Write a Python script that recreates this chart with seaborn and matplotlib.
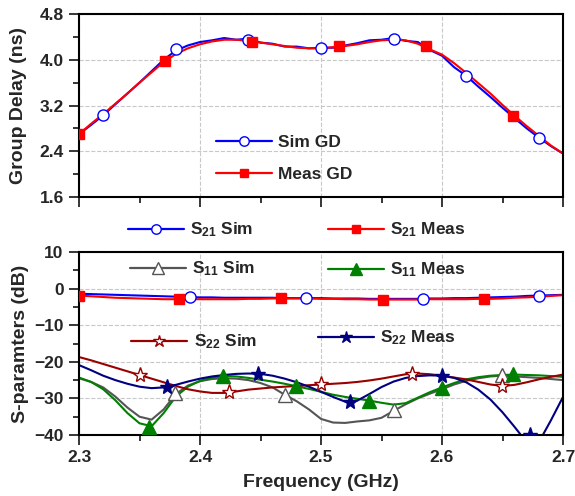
import numpy as np
import matplotlib
matplotlib.use("Agg")
import matplotlib.pyplot as plt
from matplotlib.lines import Line2D
from matplotlib.ticker import MultipleLocator, FormatStrFormatter
import seaborn as sns

# frequency grid (GHz)
freq = [2.30, 2.31, 2.32, 2.33, 2.34, 2.35, 2.36, 2.37, 2.38, 2.39, 2.40,
        2.41, 2.42, 2.43, 2.44, 2.45, 2.46, 2.47, 2.48, 2.49, 2.50,
        2.51, 2.52, 2.53, 2.54, 2.55, 2.56, 2.57, 2.58, 2.59, 2.60,
        2.61, 2.62, 2.63, 2.64, 2.65, 2.66, 2.67, 2.68, 2.69, 2.70]

# group delay (ns)
sim_gd = [2.70, 2.86, 3.03, 3.22, 3.41, 3.60, 3.80, 4.00, 4.16, 4.25, 4.31,
          4.34, 4.38, 4.35, 4.37, 4.30, 4.28, 4.23, 4.23, 4.20, 4.21,
          4.21, 4.25, 4.29, 4.34, 4.35, 4.38, 4.33, 4.31, 4.17, 4.07,
          3.87, 3.72, 3.53, 3.35, 3.16, 2.98, 2.80, 2.64, 2.49, 2.36]
meas_gd = [2.70, 2.88, 3.05, 3.23, 3.41, 3.60, 3.78, 3.96, 4.10, 4.20, 4.27,
           4.32, 4.35, 4.35, 4.33, 4.30, 4.27, 4.24, 4.21, 4.20, 4.20,
           4.22, 4.24, 4.27, 4.31, 4.34, 4.35, 4.34, 4.28, 4.18, 4.09,
           3.94, 3.77, 3.59, 3.41, 3.21, 3.02, 2.84, 2.67, 2.50, 2.36]
sim_gd_mx = [2.32, 2.38, 2.44, 2.50, 2.56, 2.62, 2.68]
sim_gd_my = [3.04, 4.18, 4.35, 4.21, 4.37, 3.72, 2.64]
meas_gd_mx = [2.30, 2.371, 2.443, 2.515, 2.587, 2.659]
meas_gd_my = [2.70, 3.97, 4.31, 4.24, 4.24, 3.02]

# S-parameters (dB)
s21_sim = [-1.4, -1.5, -1.6, -1.7, -1.8, -1.9, -2.0, -2.1, -2.2, -2.3, -2.4,
           -2.4, -2.5, -2.5, -2.5, -2.5, -2.5, -2.6, -2.6, -2.6, -2.6,
           -2.7, -2.7, -2.7, -2.8, -2.8, -2.8, -2.8, -2.8, -2.7, -2.7,
           -2.6, -2.6, -2.5, -2.4, -2.3, -2.2, -2.0, -1.9, -1.8, -1.7]
s21_meas = [-1.9, -2.1, -2.3, -2.5, -2.6, -2.7, -2.8, -2.9, -2.9, -2.9, -2.9,
            -2.9, -2.9, -2.9, -2.8, -2.8, -2.7, -2.7, -2.7, -2.7, -2.8,
            -2.8, -2.9, -2.9, -3.0, -3.0, -3.0, -3.0, -3.0, -2.9, -2.9,
            -2.9, -2.9, -2.8, -2.8, -2.7, -2.5, -2.4, -2.2, -2.0, -1.8]
s11_sim = [-24.5, -25.5, -27.0, -29.5, -32.5, -35.0, -35.8, -33.0, -28.8, -26.5, -25.3,
           -24.7, -24.5, -24.6, -25.0, -25.8, -27.0, -29.0, -30.8, -33.0, -35.6,
           -36.6, -36.7, -36.3, -36.0, -35.3, -33.4, -31.6, -30.0, -28.7, -27.5,
           -26.2, -25.2, -24.5, -24.0, -23.8, -24.0, -24.2, -24.4, -24.7, -25.0]
s11_meas = [-24.3, -25.5, -27.5, -30.5, -34.0, -36.8, -37.6, -34.0, -29.5, -26.8, -25.2,
            -24.3, -23.9, -24.0, -24.4, -24.9, -25.4, -26.0, -26.7, -27.4, -28.2,
            -29.0, -29.6, -30.1, -30.6, -31.2, -31.7, -31.3, -29.8, -28.3, -27.0,
            -25.8, -24.8, -24.2, -23.8, -23.6, -23.5, -23.6, -23.7, -23.9, -24.1]
s22_sim = [-18.7, -19.6, -20.6, -21.6, -22.6, -23.6, -24.6, -25.6, -26.6, -27.5, -28.1,
           -28.5, -28.5, -28.1, -27.6, -27.3, -27.0, -26.8, -26.6, -26.4, -26.2,
           -26.0, -25.8, -25.5, -25.1, -24.6, -24.0, -23.4, -23.2, -23.4, -23.8,
           -24.3, -24.8, -25.5, -26.2, -26.6, -26.3, -25.6, -24.8, -24.1, -23.5]
s22_meas = [-20.9, -22.3, -23.8, -25.0, -26.0, -26.8, -27.2, -27.0, -26.3, -25.4, -24.6,
            -24.0, -23.6, -23.3, -23.2, -23.3, -23.8, -24.6, -25.6, -26.8, -28.2,
            -29.6, -30.9, -30.6, -28.8, -26.9, -25.4, -24.4, -23.9, -23.7, -23.8,
            -24.4, -25.6, -27.6, -30.3, -33.8, -37.8, -42.0, -42.0, -36.0, -29.6]

s21_sim_mx = [2.392, 2.488, 2.584, 2.680]
s21_sim_my = [-2.3, -2.6, -2.8, -1.9]
s21_meas_mx = [2.300, 2.383, 2.467, 2.551, 2.635]
s21_meas_my = [-1.9, -2.9, -2.7, -3.0, -2.8]
s11_sim_mx = [2.379, 2.470, 2.560, 2.650]
s11_sim_my = [-28.5, -29.1, -33.3, -23.6]
s11_meas_mx = [2.358, 2.419, 2.479, 2.540, 2.600, 2.659]
s11_meas_my = [-37.7, -23.8, -26.7, -30.6, -27.1, -23.4]
s22_sim_mx = [2.350, 2.424, 2.500, 2.575, 2.650]
s22_sim_my = [-23.6, -28.3, -26.2, -23.2, -26.6]
s22_meas_mx = [2.373, 2.448, 2.524, 2.600, 2.673]
s22_meas_my = [-26.8, -23.2, -31.0, -23.8, -40.0]

sns.set_style("ticks")
plt.rcParams['font.family'] = ['Liberation Sans', 'DejaVu Sans']
plt.rcParams['font.weight'] = 'bold'
plt.rcParams['axes.labelweight'] = 'bold'
plt.rcParams['mathtext.fontset'] = 'custom'
plt.rcParams['mathtext.rm'] = 'Liberation Sans:bold'
plt.rcParams['mathtext.it'] = 'Liberation Sans:bold'
plt.rcParams['mathtext.bf'] = 'Liberation Sans:bold'
plt.rcParams['mathtext.default'] = 'rm'
plt.rcParams['legend.numpoints'] = 1

W, H = 575, 496
fig = plt.figure(figsize=(W / 100, H / 100), dpi=100)
ax1 = fig.add_axes([79 / W, 1 - 197 / H, 484 / W, 183 / H])
ax2 = fig.add_axes([79 / W, 1 - 435 / H, 484 / W, 183 / H])


def draw(ax, y, mx, my, color, marker, mfc, ms=8):
    sns.lineplot(x=freq, y=y, ax=ax, color=color, lw=1.5, estimator=None, sort=False)
    ax.plot(mx, my, linestyle='none', marker=marker, ms=ms, mfc=mfc, mec=color,
            mew=1.0, zorder=5, clip_on=True)
    return Line2D([], [], color=color, lw=1.6, marker=marker, ms=ms * 0.85, mfc=mfc,
                  mec=color, mew=1.0)


blue, red, grey, green, dred, navy = '#0000ff', '#ff0000', '#555555', '#008000', '#990000', '#000080'

h_sim_gd = draw(ax1, sim_gd, sim_gd_mx, sim_gd_my, blue, 'o', 'white')
h_meas_gd = draw(ax1, meas_gd, meas_gd_mx, meas_gd_my, red, 's', red, 7.5)

h21s = draw(ax2, s21_sim, s21_sim_mx, s21_sim_my, blue, 'o', 'white')
h21m = draw(ax2, s21_meas, s21_meas_mx, s21_meas_my, red, 's', red, 7.5)
h11s = draw(ax2, s11_sim, s11_sim_mx, s11_sim_my, grey, '^', 'white', 10)
h11m = draw(ax2, s11_meas, s11_meas_mx, s11_meas_my, green, '^', green, 10)
h22s = draw(ax2, s22_sim, s22_sim_mx, s22_sim_my, dred, '*', 'white', 11)
h22m = draw(ax2, s22_meas, s22_meas_mx, s22_meas_my, navy, '*', navy, 11)

for ax in (ax1, ax2):
    ax.set_xlim(2.3, 2.7)
    ax.xaxis.set_major_locator(MultipleLocator(0.1))
    ax.xaxis.set_minor_locator(MultipleLocator(0.05))
    ax.grid(True, which='major', color='#c8c8c8', ls='--', lw=0.8)
    ax.tick_params(which='major', direction='out', length=7.5, width=1.3, labelsize=12.5)
    ax.tick_params(which='minor', direction='out', length=4.5, width=1.3)
    for sp in ax.spines.values():
        sp.set_visible(True)
        sp.set_linewidth(1.5)
        sp.set_color('black')

ax1.set_ylim(1.6, 4.8)
ax1.yaxis.set_major_locator(MultipleLocator(0.8))
ax1.yaxis.set_minor_locator(MultipleLocator(0.4))
ax1.yaxis.set_major_formatter(FormatStrFormatter('%.1f'))
ax1.tick_params(axis='x', labelbottom=False)
ax1.set_ylabel('Group Delay (ns)', fontsize=14)
ax1.set_xlabel('')

ax2.set_ylim(-40, 10)
ax2.yaxis.set_major_locator(MultipleLocator(10))
ax2.yaxis.set_minor_locator(MultipleLocator(5))
ax2.xaxis.set_major_formatter(FormatStrFormatter('%.1f'))
ax2.set_ylabel('S-paramters (dB)', fontsize=14)
ax2.set_xlabel('Frequency (GHz)', fontsize=14, labelpad=6)
ax1.yaxis.set_label_coords(-0.108, 0.5)
ax2.yaxis.set_label_coords(-0.104, 0.5)

entries = [
    (h_sim_gd, 'Sim GD', 216, 142),
    (h_meas_gd, 'Meas GD', 216, 174),
    (h21s, 'S$_{21}$ Sim', 128, 230),
    (h21m, 'S$_{21}$ Meas', 328, 230),
    (h11s, 'S$_{11}$ Sim', 130, 269),
    (h11m, 'S$_{11}$ Meas', 328, 270),
    (h22s, 'S$_{22}$ Sim', 131, 342),
    (h22m, 'S$_{22}$ Meas', 318, 338),
]
for h, lab, px, py in entries:
    fig.legend(handles=[h], labels=[lab], loc='center left',
               bbox_to_anchor=(px / W, 1 - py / H), bbox_transform=fig.transFigure,
               frameon=False, fontsize=12.5, handlelength=3.2, handletextpad=0.4,
               borderpad=0, borderaxespad=0)

fig.savefig('out.png', dpi=100)
